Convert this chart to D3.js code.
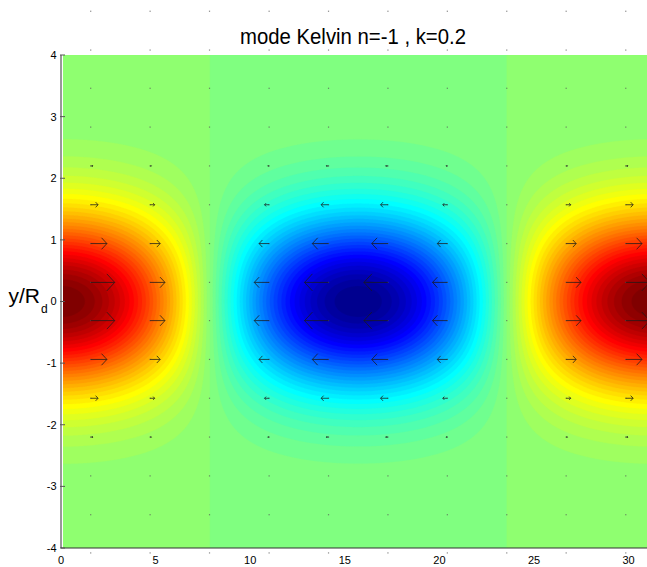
<!DOCTYPE html>
<html>
<head>
<meta charset="utf-8">
<script src="https://cdn.jsdelivr.net/npm/d3@7"></script>
<style>
body { margin: 0; background: #fff; }
text { font-family: "Liberation Sans", Arial, Helvetica, sans-serif; fill: #000; }
</style>
</head>
<body>
<svg id="chart" width="647" height="567"></svg>
<script>
// mode parameters, as in the title
const k = 0.2;
const title = "mode Kelvin n=-1 , k=0.2";

const xTicks = [0, 5, 10, 15, 20, 25, 30];
const yTicks = [-4, -3, -2, -1, 0, 1, 2, 3, 4];

// quiver grid
const qx = [1.57, 4.71, 7.85, 11.00, 14.14, 17.28, 20.42, 23.56, 26.70, 29.85];
const qy = [-4.71, -4.08, -3.46, -2.83, -2.20, -1.57, -0.94, -0.31,
            0.31, 0.94, 1.57, 2.20, 2.83, 3.46, 4.08, 4.71];
const arrowScale = 1.40;

const xDomain = [0, 2 * Math.PI / k];
const yDomain = [-4, 4];

// Kelvin mode height field
function eta(xv, yv) {
  return Math.cos(k * xv) * Math.exp(-yv * yv / 2);
}

// matlab jet(m)
function jet(m) {
  const n = Math.ceil(m / 4);
  let u = [];
  for (let i = 1; i <= n; i++) u.push(i / n);
  for (let i = 1; i < n; i++) u.push(1);
  for (let i = n; i >= 1; i--) u.push(i / n);
  const g0 = Math.ceil(n / 2) - (m % 4 == 1 ? 1 : 0);
  let map = d3.range(m).map(() => [0, 0, 0]);
  u.forEach((val, i) => {
    let g = g0 + i + 1;
    let r = g + n, b = g - n;
    if (r >= 1 && r <= m) map[r - 1][0] = val;
    if (g >= 1 && g <= m) map[g - 1][1] = val;
    if (b >= 1 && b <= m) map[b - 1][2] = val;
  });
  return map.map(c => d3.rgb(c[0] * 255, c[1] * 255, c[2] * 255).formatHex());
}
const colors = jet(64);

const svg = d3.select("#chart");
const x = d3.scaleLinear().domain([0, 30]).range([61, 628.6]);
const y = d3.scaleLinear().domain(yDomain).range([548, 55]);

const pLeft = x(xDomain[0]), pRight = x(xDomain[1]);
const pTop = y(yDomain[1]), pBottom = y(yDomain[0]);

svg.append("defs").append("clipPath")
  .attr("id", "plot")
  .append("rect")
  .attr("x", pLeft + 2)
  .attr("y", pTop)
  .attr("width", pRight - pLeft - 2)
  .attr("height", pBottom - pTop);

// filled contours
const nx = Math.round(pRight - pLeft);
const ny = Math.round(pBottom - pTop);
const dx = (xDomain[1] - xDomain[0]) / nx;
const dy = (yDomain[1] - yDomain[0]) / ny;
let values = new Array(nx * ny);
for (let j = 0; j < ny; j++) {
  for (let i = 0; i < nx; i++) {
    values[j * nx + i] = eta(xDomain[0] + (i + 0.5) * dx, yDomain[1] - (j + 0.5) * dy);
  }
}
const thresholds = d3.range(0, 64).map(i => -1 + i / 32);
const contours = d3.contours().size([nx, ny]).thresholds(thresholds)(values);

const sx = (pRight - pLeft) / nx, sy = (pBottom - pTop) / ny;
const path = d3.geoPath(d3.geoTransform({
  point: function(px, py) {
    this.stream.point(pLeft + px * sx, pTop + py * sy);
  }
}));

svg.append("g")
  .attr("clip-path", "url(#plot)")
  .selectAll("path")
  .data(contours)
  .enter()
  .append("path")
  .attr("d", path)
  .attr("fill", (d, i) => colors[i])
  .attr("stroke", (d, i) => colors[i])
  .attr("stroke-width", 0.3);

// quiver
let arrows = [];
for (let yv of qy) {
  for (let xv of qx) {
    arrows.push({ x: xv, y: yv, u: eta(xv, yv) * arrowScale });
  }
}
const alpha = 0.33, beta = 0.33;
const q = svg.append("g");
q.selectAll("rect")
  .data(arrows)
  .enter()
  .append("rect")
  .attr("x", d => x(d.x) - 0.6)
  .attr("y", d => y(d.y) - 0.6)
  .attr("width", 1.2)
  .attr("height", 1.2)
  .attr("fill", "#555")
  .attr("opacity", 0.7);
q.selectAll("path")
  .data(arrows.filter(d => Math.abs(x(d.x + d.u) - x(d.x)) > 0.8))
  .enter()
  .append("path")
  .attr("d", d => {
    let tip = [x(d.x + d.u), y(d.y)];
    let hx = x(d.x + d.u - alpha * d.u);
    let h1 = y(d.y + alpha * beta * d.u);
    let h2 = y(d.y - alpha * beta * d.u);
    return "M" + x(d.x) + "," + y(d.y) + "L" + tip + "M" + hx + "," + h1 + "L" + tip + "L" + hx + "," + h2;
  })
  .attr("fill", "none")
  .attr("stroke", "#1a1a1a")
  .attr("stroke-width", 0.9)
  .attr("opacity", 0.85);

// axes
svg.append("line")
  .attr("x1", pLeft).attr("x2", pLeft)
  .attr("y1", pTop).attr("y2", pBottom)
  .attr("stroke", "#555").attr("stroke-width", 1.2);
svg.append("line")
  .attr("x1", pLeft).attr("x2", 647)
  .attr("y1", pBottom).attr("y2", pBottom)
  .attr("stroke", "#333").attr("stroke-width", 1.2);

svg.append("g")
  .selectAll("line")
  .data(yTicks)
  .enter()
  .append("line")
  .attr("x1", pLeft - 1).attr("x2", pLeft + 4)
  .attr("y1", d => y(d)).attr("y2", d => y(d))
  .attr("stroke", "#555");

svg.append("g")
  .selectAll("text")
  .data(yTicks)
  .enter()
  .append("text")
  .attr("x", 56.5)
  .attr("y", d => y(d))
  .attr("dy", "0.36em")
  .attr("text-anchor", "end")
  .style("font-size", "11px")
  .text(d => d);

svg.append("g")
  .selectAll("text")
  .data(xTicks)
  .enter()
  .append("text")
  .attr("x", d => x(d))
  .attr("y", 564)
  .attr("text-anchor", "middle")
  .style("font-size", "11px")
  .text(d => d);

svg.append("text")
  .attr("x", 240)
  .attr("y", 44)
  .attr("textLength", 226)
  .attr("lengthAdjust", "spacingAndGlyphs")
  .style("font-size", "22px")
  .text(title);

// y label with subscript d
const ylab = svg.append("text")
  .attr("x", 8.5)
  .attr("y", 303)
  .style("font-size", "21px");
ylab.append("tspan")
  .text("y/R");
ylab.append("tspan")
  .attr("x", 41)
  .attr("y", 313)
  .style("font-size", "12px")
  .text("d");
</script>
</body>
</html>
